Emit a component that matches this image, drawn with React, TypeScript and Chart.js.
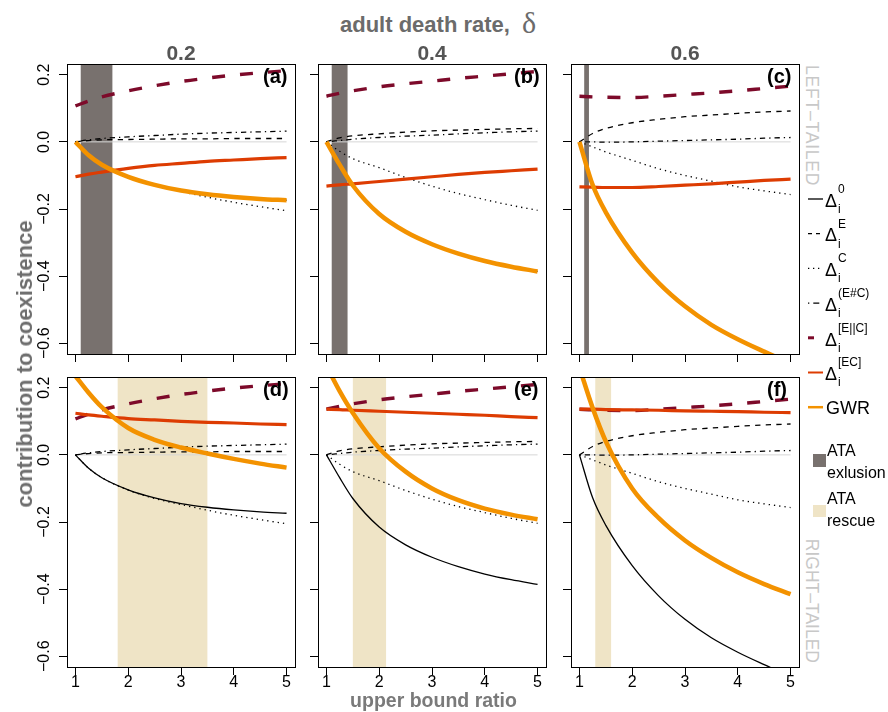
import React, { useEffect, useRef } from 'react';
import { Chart, registerables } from 'chart.js';
Chart.register(...registerables);

// ---------------- data ----------------
const X_POINTS = [1, 1.25, 1.5, 2, 2.5, 3, 3.5, 4, 4.5, 5];
const X_TICKS = [1, 2, 3, 4, 5];
const Y_TICKS = [-0.6, -0.4, -0.2, 0, 0.2];
const REF_X = [1, 5];
const REF_Y = [0, 0];
const DEATH_RATES = ['0.2', '0.4', '0.6'];
const PANEL_LETTERS = [['(a)', '(b)', '(c)'], ['(d)', '(e)', '(f)']];
const ROW_NAMES = ['LEFT\u2013TAILED', 'RIGHT\u2013TAILED'];

// column 1: delta = 0.2
const DELTA0_C1 = [0, -0.04, -0.068, -0.104, -0.128, -0.145, -0.156, -0.164, -0.170, -0.174];
const DELTAE_C1 = [0, 0.004, 0.006, 0.007, 0.008, 0.009, 0.009, 0.010, 0.010, 0.010];
const DELTAC_C1 = [0, -0.040, -0.068, -0.105, -0.130, -0.148, -0.165, -0.180, -0.193, -0.205];
const DELTAEXC_C1 = [0, 0.006, 0.010, 0.015, 0.019, 0.023, 0.026, 0.028, 0.030, 0.032];
const DELTAEPC_C1 = [0.107, 0.122, 0.134, 0.152, 0.167, 0.180, 0.190, 0.199, 0.206, 0.212];
const DELTAEC_LEFT_C1 = [-0.104, -0.096, -0.090, -0.079, -0.070, -0.064, -0.058, -0.054, -0.050, -0.047];
const DELTAEC_RIGHT_C1 = [0.124, 0.119, 0.115, 0.108, 0.104, 0.100, 0.097, 0.095, 0.092, 0.090];
const GWR_RIGHT_C1 = [0.235, 0.185, 0.142, 0.08, 0.045, 0.022, 0.004, -0.012, -0.026, -0.038];

// column 2: delta = 0.4
const DELTA0_C2 = [0, -0.068, -0.13, -0.215, -0.268, -0.305, -0.333, -0.355, -0.372, -0.386];
const DELTAE_C2 = [0, 0.012, 0.018, 0.024, 0.029, 0.033, 0.035, 0.037, 0.039, 0.040];
const DELTAC_C2 = [0, -0.028, -0.050, -0.077, -0.106, -0.132, -0.154, -0.172, -0.189, -0.204];
const DELTAEXC_C2 = [0, 0.004, 0.008, 0.013, 0.017, 0.020, 0.024, 0.027, 0.030, 0.032];
const DELTAEPC_C2 = [0.136, 0.145, 0.152, 0.164, 0.173, 0.181, 0.189, 0.196, 0.203, 0.210];
const DELTAEC_LEFT_C2 = [-0.132, -0.128, -0.125, -0.118, -0.111, -0.104, -0.097, -0.091, -0.086, -0.081];
const DELTAEC_RIGHT_C2 = [0.136, 0.135, 0.133, 0.130, 0.127, 0.124, 0.121, 0.118, 0.114, 0.111];
const GWR_RIGHT_C2 = [0.265, 0.19, 0.125, 0.02, -0.05, -0.10, -0.135, -0.16, -0.178, -0.192];

// column 3: delta = 0.6
const DELTA0_C3 = [0, -0.128, -0.21, -0.33, -0.42, -0.49, -0.545, -0.588, -0.625, -0.66];
const DELTAE_C3 = [0, 0.025, 0.040, 0.057, 0.067, 0.075, 0.080, 0.085, 0.089, 0.092];
const DELTAC_C3 = [0, -0.015, -0.030, -0.055, -0.080, -0.100, -0.117, -0.134, -0.146, -0.157];
const DELTAEXC_C3 = [0, 0, -0.001, 0, 0.002, 0.004, 0.006, 0.008, 0.011, 0.013];
const DELTAEPC_C3 = [0.136, 0.134, 0.133, 0.132, 0.136, 0.141, 0.146, 0.152, 0.159, 0.166];
const DELTAEC_LEFT_C3 = [-0.134, -0.135, -0.136, -0.136, -0.133, -0.129, -0.125, -0.120, -0.115, -0.111];
const DELTAEC_RIGHT_C3 = [0.136, 0.136, 0.135, 0.134, 0.133, 0.131, 0.130, 0.129, 0.127, 0.126];
const GWR_RIGHT_C3 = [0.26, 0.14, 0.04, -0.10, -0.188, -0.255, -0.307, -0.35, -0.385, -0.415];

// ATA exclusion (left-tailed) and ATA rescue (right-tailed) ranges of the upper bound ratio
const EXCLUSION_FROM = [1.1, 1.1, 1.09];
const EXCLUSION_TO = [1.7, 1.4, 1.18];
const RESCUE_FROM = [1.8, 1.5, 1.3];
const RESCUE_TO = [3.5, 2.13, 1.6];

const DELTA0 = [DELTA0_C1, DELTA0_C2, DELTA0_C3];
const DELTAE = [DELTAE_C1, DELTAE_C2, DELTAE_C3];
const DELTAC = [DELTAC_C1, DELTAC_C2, DELTAC_C3];
const DELTAEXC = [DELTAEXC_C1, DELTAEXC_C2, DELTAEXC_C3];
const DELTAEPC = [DELTAEPC_C1, DELTAEPC_C2, DELTAEPC_C3];
const DELTAEC = [
  [DELTAEC_LEFT_C1, DELTAEC_LEFT_C2, DELTAEC_LEFT_C3],
  [DELTAEC_RIGHT_C1, DELTAEC_RIGHT_C2, DELTAEC_RIGHT_C3],
];
// left-tailed GWR coincides with Delta^0
const GWR = [
  [DELTA0_C1, DELTA0_C2, DELTA0_C3],
  [GWR_RIGHT_C1, GWR_RIGHT_C2, GWR_RIGHT_C3],
];

// ---------------- styles / layout ----------------
const FONT = '"Liberation Sans", Arial, Helvetica, sans-serif';
const SERIF = '"Liberation Serif", "DejaVu Serif", serif';
const ORANGE = '#F39200';
const RED = '#DD3C02';
const MAROON = '#7D0A2A';
const EXCL_COLOR = '#78716E';
const RESC_COLOR = '#EFE4C6';
const ZERO_COLOR = '#d6d6d6';

const PANEL_LEFT = [67, 318, 571];
const PANEL_TOP = [64, 377];
const PW = 228;
const PH = 290;
const X_MIN = 0.84, X_MAX = 5.16;
const Y_MIN = -0.632, Y_MAX = 0.232;

const pts = (xs: number[], ys: number[]) => xs.map((x, i) => ({ x, y: ys[i] }));
const fmtY = (v: number) => (v < 0 ? '\u2212' : '') + Math.abs(v).toFixed(1);

const panelDecor = {
  id: 'panelDecor',
  beforeDatasetsDraw(chart: any, _args: any, opts: any) {
    const { ctx, chartArea, scales } = chart;
    if (opts && opts.color) {
      const x1 = scales.x.getPixelForValue(opts.from);
      const x2 = scales.x.getPixelForValue(opts.to);
      ctx.save();
      ctx.fillStyle = opts.color;
      ctx.fillRect(x1, chartArea.top, x2 - x1, chartArea.bottom - chartArea.top);
      ctx.restore();
    }
  },
  afterDatasetsDraw(chart: any) {
    const { ctx, chartArea } = chart;
    ctx.save();
    ctx.strokeStyle = '#000';
    ctx.lineWidth = 1;
    ctx.strokeRect(
      Math.round(chartArea.left) + 0.5,
      Math.round(chartArea.top) + 0.5,
      Math.round(chartArea.right - chartArea.left),
      Math.round(chartArea.bottom - chartArea.top)
    );
    ctx.restore();
  },
};

function Panel({ row, col }: { row: number; col: number }) {
  const ref = useRef<HTMLCanvasElement>(null);
  const yW = col === 0 ? 60 : 10;
  const xH = row === 1 ? 30 : 10;
  const cw = yW + PW + 2;
  const ch = 2 + PH + xH;
  useEffect(() => {
    const line = (data: number[], extra: any) => ({
      data: pts(X_POINTS, data),
      pointRadius: 0,
      fill: false,
      cubicInterpolationMode: 'monotone',
      borderCapStyle: 'butt',
      clip: 0,
      ...extra,
    });
    const datasets: any[] = [
      { data: pts(REF_X, REF_Y), borderColor: ZERO_COLOR, borderWidth: 1, pointRadius: 0, order: 10, clip: 0 },
      line(DELTA0[col], { borderColor: '#000', borderWidth: 1.3, order: 9 }),
      line(DELTAE[col], { borderColor: '#000', borderWidth: 1.3, borderDash: [5.3, 5.3], order: 8 }),
      line(DELTAC[col], { borderColor: '#000', borderWidth: 1.3, borderDash: [1.3, 4], order: 7 }),
      line(DELTAEXC[col], { borderColor: '#000', borderWidth: 1.3, borderDash: [1.3, 4, 5.3, 4], order: 6 }),
      line(DELTAEPC[col], { borderColor: MAROON, borderWidth: 3.4, borderDash: [13, 15], order: 5 }),
      line(DELTAEC[row][col], { borderColor: RED, borderWidth: 3.2, order: 4 }),
      line(GWR[row][col], { borderColor: ORANGE, borderWidth: 4.5, order: 3 }),
    ];
    const band =
      row === 0
        ? { from: EXCLUSION_FROM[col], to: EXCLUSION_TO[col], color: EXCL_COLOR }
        : { from: RESCUE_FROM[col], to: RESCUE_TO[col], color: RESC_COLOR };
    const gridOpts = { drawOnChartArea: false, drawTicks: true, tickLength: 8, color: '#000', lineWidth: 1 };
    const chart = new Chart(ref.current as HTMLCanvasElement, {
      type: 'line',
      data: { datasets },
      plugins: [panelDecor],
      options: {
        responsive: false,
        animation: false,
        devicePixelRatio: 1,
        events: [],
        layout: { padding: { top: 2, right: 2, left: 0, bottom: 0 } },
        plugins: {
          legend: { display: false },
          tooltip: { enabled: false },
          panelDecor: band,
        } as any,
        scales: {
          x: {
            type: 'linear',
            min: X_MIN,
            max: X_MAX,
            afterBuildTicks: (s: any) => { s.ticks = X_TICKS.map((v) => ({ value: v })); },
            afterFit: (s: any) => { s.height = xH; s.paddingLeft = 0; s.paddingRight = 0; },
            ticks: {
              display: row === 1,
              autoSkip: false,
              maxRotation: 0,
              color: '#000',
              padding: -2,
              font: { family: FONT, size: 16 },
              callback: (v: any) => String(v),
            },
            grid: gridOpts,
            border: { display: false },
          },
          y: {
            type: 'linear',
            min: Y_MIN,
            max: Y_MAX,
            afterBuildTicks: (s: any) => { s.ticks = Y_TICKS.map((v) => ({ value: v })); },
            afterFit: (s: any) => { s.width = yW; s.paddingTop = 0; s.paddingBottom = 0; },
            ticks: {
              display: col === 0,
              autoSkip: false,
              minRotation: 90,
              maxRotation: 90,
              crossAlign: 'center',
              color: '#000',
              padding: -1,
              font: { family: FONT, size: 16 },
              callback: (v: any) => fmtY(Number(v)),
            },
            grid: gridOpts,
            border: { display: false },
          },
        },
      } as any,
    });
    return () => chart.destroy();
  }, [row, col]);
  return (
    <canvas
      ref={ref}
      width={cw}
      height={ch}
      style={{ position: 'absolute', left: PANEL_LEFT[col] - yW, top: PANEL_TOP[row] - 2, width: cw, height: ch, display: 'block' }}
    />
  );
}

function Label(props: {
  x: number; y: number; size: number; text: string; anchor?: string; weight?: number; color?: string; family?: string; ratio?: number;
}) {
  const { x, y, size, text, anchor = 'start', weight = 400, color = '#000', family = FONT, ratio = 0.8465 } = props;
  const tx = anchor === 'middle' ? 'translateX(-50%)' : anchor === 'end' ? 'translateX(-100%)' : undefined;
  return (
    <div
      style={{
        position: 'absolute', left: x, top: y - ratio * size, fontSize: size, lineHeight: `${size}px`,
        fontFamily: family, fontWeight: weight, color, whiteSpace: 'nowrap', transform: tx,
      }}
    >
      {text}
    </div>
  );
}

const LEGEND_SUPS = ['0', 'E', 'C', '(E#C)', '[E||C]', '[EC]'];
const LEGEND_Y0 = 199;
const LEGEND_STEP = 34.7;

function Legend() {
  const samples = [
    { color: '#000', w: 1.3, dash: undefined },
    { color: '#000', w: 1.3, dash: '4 4' },
    { color: '#000', w: 1.3, dash: '1.3 3.7' },
    { color: '#000', w: 1.3, dash: '1.3 4 6 4' },
    { color: MAROON, w: 3, dash: '6 30' },
    { color: RED, w: 2, dash: undefined },
    { color: ORANGE, w: 2.5, dash: undefined },
  ];
  return (
    <>
      <svg style={{ position: 'absolute', left: 800, top: 180, width: 30, height: 250 }} width={30} height={250}>
        {samples.map((s, i) => {
          const y = LEGEND_Y0 + i * LEGEND_STEP - 180;
          return (
            <line key={i} x1={8} x2={23} y1={y} y2={y} stroke={s.color} strokeWidth={s.w} strokeDasharray={s.dash} />
          );
        })}
      </svg>
      {LEGEND_SUPS.map((sup, i) => {
        const yc = LEGEND_Y0 + i * LEGEND_STEP;
        return (
          <React.Fragment key={sup}>
            <Label x={825} y={yc + 8} size={18} text={'\u0394'} />
            <Label x={838} y={yc - 6} size={12} text={sup} />
            <Label x={838} y={yc + 14} size={12} text="i" />
          </React.Fragment>
        );
      })}
      <Label x={826} y={LEGEND_Y0 + 6 * LEGEND_STEP + 7} size={18} text="GWR" />
      <div style={{ position: 'absolute', left: 813, top: 454, width: 13, height: 13, background: EXCL_COLOR }} />
      <Label x={827} y={457} size={16} text="ATA" />
      <Label x={827} y={479} size={16} text="exlusion" />
      <div style={{ position: 'absolute', left: 813, top: 505, width: 13, height: 12, background: RESC_COLOR }} />
      <Label x={827} y={505} size={16} text="ATA" />
      <Label x={827} y={527} size={16} text="rescue" />
    </>
  );
}

export default function App() {
  return (
    <div style={{ position: 'fixed', left: 0, top: 0, width: 888, height: 712, background: '#fff', overflow: 'hidden' }}>
      {[0, 1].map((r) => [0, 1, 2].map((c) => <Panel key={`${r}-${c}`} row={r} col={c} />))}

      {/* overall title */}
      <Label x={340} y={33} size={22} weight={700} color="#6b6b6b" text="adult death rate," />
      <Label x={522} y={33} size={30} color="#6b6b6b" family={SERIF} ratio={0.8375} text={'\u03B4'} />

      {DEATH_RATES.map((d, c) => (
        <Label key={d} x={PANEL_LEFT[c] + PW / 2} y={60} size={21} weight={700} color="#555" anchor="middle" text={d} />
      ))}

      {PANEL_LETTERS.map((rowL, r) =>
        rowL.map((t, c) => (
          <Label key={t} x={PANEL_LEFT[c] + 196} y={PANEL_TOP[r] + 19} size={20} weight={700} text={t} />
        ))
      )}

      {/* y title */}
      <div
        style={{
          position: 'absolute', left: 25.4, top: 364, transform: 'translate(-50%, -50%) rotate(-90deg)',
          fontFamily: FONT, fontWeight: 700, fontSize: 22, lineHeight: '22px', color: '#6e6e6e', whiteSpace: 'nowrap',
        }}
      >
        contribution to coexistence
      </div>

      {/* x title */}
      <Label x={433.5} y={708} size={19.5} weight={700} color="#7a7a7a" anchor="middle" text="upper bound ratio" />

      {/* row side labels */}
      <div
        style={{
          position: 'absolute', left: 819.8, top: 65, width: 0, height: 0, transform: 'rotate(90deg)', transformOrigin: '0 0',
        }}
      >
        <span style={{ position: 'absolute', left: 0, top: 0, fontFamily: FONT, fontSize: 17.5, lineHeight: '17.5px', color: '#c8c8c8', whiteSpace: 'nowrap', letterSpacing: 0.8 }}>
          {ROW_NAMES[0]}
        </span>
      </div>
      <div
        style={{
          position: 'absolute', left: 819.8, top: 663, width: 0, height: 0, transform: 'rotate(90deg)', transformOrigin: '0 0',
        }}
      >
        <span style={{ position: 'absolute', right: 0, top: 0, fontFamily: FONT, fontSize: 17.5, lineHeight: '17.5px', color: '#c8c8c8', whiteSpace: 'nowrap' }}>
          {ROW_NAMES[1]}
        </span>
      </div>

      <Legend />
    </div>
  );
}
